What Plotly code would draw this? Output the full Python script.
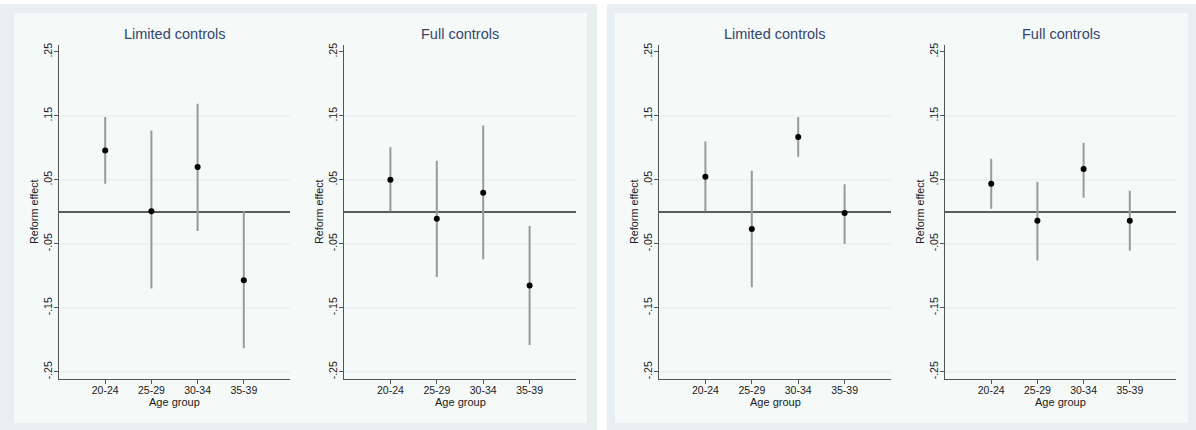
import plotly.graph_objects as go

age_groups = ["20-24", "25-29", "30-34", "35-39"]
panel_titles = ["Limited controls", "Full controls", "Limited controls", "Full controls"]
ytick_vals = [0.25, 0.15, 0.05, -0.05, -0.15, -0.25]
ytick_text = [".25", ".15", ".05", "-.05", "-.15", "-.25"]
grid_vals = [0.15, 0.05, -0.05, -0.15, -0.25]

# Left figure, limited controls
lim1_est = [0.096, 0.001, 0.070, -0.107]
lim1_lo = [0.044, -0.120, -0.030, -0.213]
lim1_hi = [0.148, 0.127, 0.169, 0.001]
# Left figure, full controls
full1_est = [0.050, -0.011, 0.030, -0.115]
full1_lo = [0.001, -0.102, -0.074, -0.208]
full1_hi = [0.101, 0.080, 0.135, -0.022]
# Right figure, limited controls
lim2_est = [0.055, -0.027, 0.117, -0.002]
lim2_lo = [0.001, -0.118, 0.086, -0.050]
lim2_hi = [0.110, 0.064, 0.148, 0.043]
# Right figure, full controls
full2_est = [0.044, -0.014, 0.067, -0.014]
full2_lo = [0.005, -0.076, 0.022, -0.061]
full2_hi = [0.083, 0.047, 0.108, 0.033]

panels = [
    (lim1_est, lim1_lo, lim1_hi),
    (full1_est, full1_lo, full1_hi),
    (lim2_est, lim2_lo, lim2_hi),
    (full2_est, full2_lo, full2_hi),
]

W, H = 1196, 430
x_domains = [(59, 290), (344, 576), (659, 891), (945, 1176)]
y_top, y_bot = 43, 379
y_dom = [(H - y_bot) / H, (H - y_top) / H]

FONT = "Liberation Sans, Arial, Helvetica, sans-serif"
OUTER = "#e8eff0"
INNER = "#f5f9f8"
AX = "#555555"

fig = go.Figure()
shapes = []
annotations = []

# background panels (two combined graphs)
for (ox0, ox1, ix0, ix1) in [(0, 597, 14, 587), (607, 1196, 615, 1188)]:
    shapes.append(dict(type="rect", xref="paper", yref="paper", layer="below",
                       x0=ox0 / W, x1=ox1 / W, y0=0, y1=(H - 2) / H,
                       fillcolor=OUTER, line=dict(width=0)))
    shapes.append(dict(type="rect", xref="paper", yref="paper", layer="below",
                       x0=ix0 / W, x1=ix1 / W, y0=(H - 423) / H, y1=(H - 11) / H,
                       fillcolor=INNER, line=dict(width=0)))

xcat = list(range(1, len(age_groups) + 1))

for i, (est, lo, hi) in enumerate(panels):
    n = "" if i == 0 else str(i + 1)
    xa, ya = "x" + n, "y" + n
    fig.add_trace(go.Scatter(
        x=xcat, y=est, mode="markers",
        marker=dict(color="black", size=6),
        error_y=dict(type="data", symmetric=False,
                     array=[h - e for h, e in zip(hi, est)],
                     arrayminus=[e - l for e, l in zip(est, lo)],
                     width=0, thickness=2, color="#9a9a9a"),
        xaxis=xa, yaxis=ya, showlegend=False, hoverinfo="skip"))
    dx0, dx1 = x_domains[i]
    fig.layout["xaxis" + n] = dict(
        domain=[dx0 / W, dx1 / W], anchor=ya, range=[0, 5],
        tickvals=xcat, ticktext=age_groups, showgrid=False, zeroline=False,
        showline=True, linecolor=AX, linewidth=1.3,
        ticks="outside", ticklen=4, tickcolor=AX, tickwidth=1,
        ticklabelstandoff=-3,
        tickfont=dict(family=FONT, size=10.5, color="#1a1a1a"), fixedrange=True)
    fig.layout["yaxis" + n] = dict(
        domain=y_dom, anchor=xa, range=[-0.2616, 0.261],
        tickvals=ytick_vals, ticktext=ytick_text, tickangle=-90,
        showgrid=False, zeroline=True, zerolinecolor="#5c5c5c", zerolinewidth=1.6,
        showline=True, linecolor=AX, linewidth=1.3,
        ticks="outside", ticklen=4, tickcolor=AX, tickwidth=1,
        ticklabelstandoff=-2,
        tickfont=dict(family=FONT, size=10.5, color="#1a1a1a"), fixedrange=True)
    for g in grid_vals:
        shapes.append(dict(type="line", xref=xa + " domain", yref=ya, layer="below",
                           x0=0, x1=1, y0=g, y1=g,
                           line=dict(color="#e3ecf3", width=1)))
    cx = (dx0 + dx1) / 2 / W
    annotations.append(dict(text=panel_titles[i], xref="paper", yref="paper",
                            x=cx, y=(H - 32) / H, xanchor="center", yanchor="middle",
                            showarrow=False,
                            font=dict(family=FONT, size=14.5, color="#34466e")))
    annotations.append(dict(text="Age group", xref="paper", yref="paper",
                            x=cx, y=(H - 402) / H, xanchor="center", yanchor="middle",
                            showarrow=False,
                            font=dict(family=FONT, size=11, color="#1a1a1a")))
    annotations.append(dict(text="Reform effect", xref="paper", yref="paper",
                            x=(dx0 - 25) / W, y=(H - 211) / H, xanchor="center",
                            yanchor="middle", textangle=-90, showarrow=False,
                            font=dict(family=FONT, size=10.8, color="#1a1a1a")))

fig.update_layout(
    width=W, height=H, margin=dict(l=0, r=0, t=0, b=0),
    paper_bgcolor="white", plot_bgcolor="rgba(0,0,0,0)",
    shapes=shapes, annotations=annotations, showlegend=False)

fig.write_html("out.html", config={"displayModeBar": False})
